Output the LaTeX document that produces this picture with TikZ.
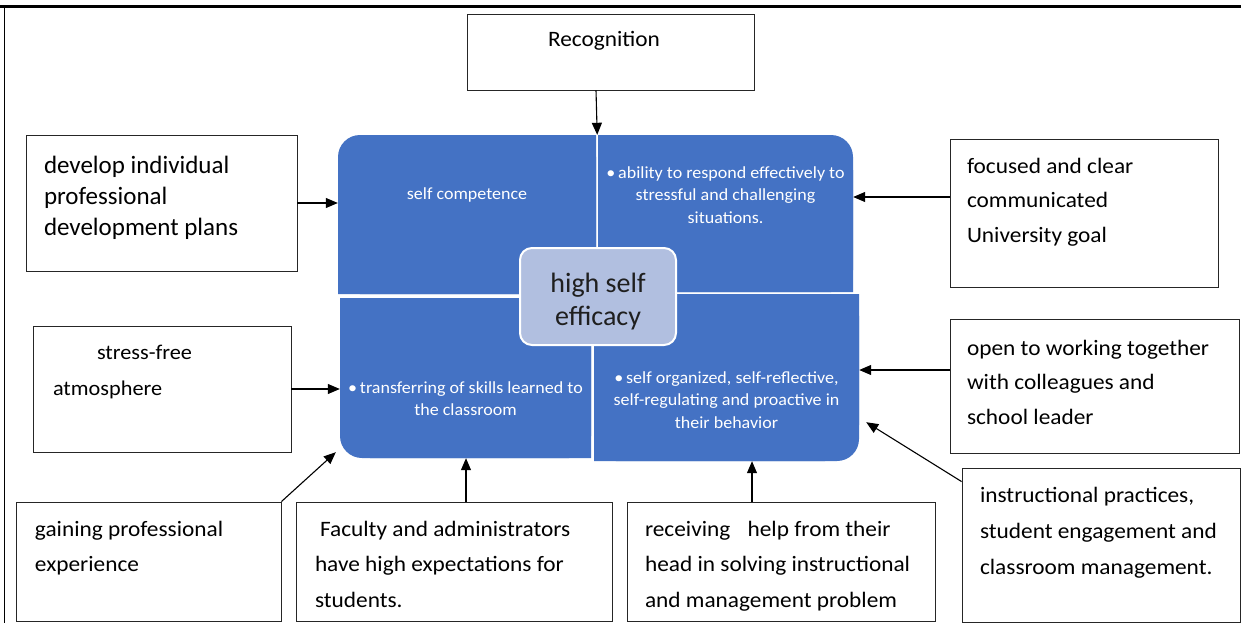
\documentclass[tikz,border=0pt]{standalone}
\usepackage{fontspec}
\setmainfont{Carlito}
\newfontfamily\wf{Carlito}[FakeStretch=1.06]
\usetikzlibrary{arrows.meta}
\definecolor{qblue}{HTML}{4472C4}
\definecolor{cblue}{HTML}{B1BFE0}
\newcommand{\tb}[7]{\parbox[c][#2pt][t]{#1pt}{#6\fontsize{#4pt}{#5pt}\selectfont\vspace*{#3pt}\rule{0pt}{0.75em}#7}}
\begin{document}
\begin{tikzpicture}[x=1pt,y=-1pt,
  box/.style={draw=black!85,line width=0.9pt,inner sep=0pt,fill=white},
  quad/.style={inner sep=0pt,text=white},
  arr/.style={-{Triangle[length=12pt,width=10pt]},line width=1.1pt}]
\useasboundingbox (0,0) rectangle (1241,623);
\fill[white] (0,0) rectangle (1241,623);
% frame
\draw[line width=2.5pt] (0,6.5) -- (1241,6.5);
\draw[line width=1.5pt] (4.5,6) -- (4.5,623);
% quadrant fills
\fill[qblue,rounded corners=22pt] (338,135) rectangle (596,294);
\fill[qblue] (370,135) rectangle (596,294) (338,170) rectangle (596,294);
\fill[qblue,rounded corners=22pt] (598,135) rectangle (853,292);
\fill[qblue] (598,135) rectangle (820,292) (598,170) rectangle (853,292);
\fill[qblue,rounded corners=22pt] (340,298) rectangle (591,458);
\fill[qblue] (370,298) rectangle (591,458) (340,298) rectangle (591,420);
\fill[qblue,rounded corners=22pt] (594,294) rectangle (859,461);
\fill[qblue] (594,294) rectangle (825,461) (594,294) rectangle (859,425);
% quadrant texts
\node[quad] (q1) at (467,214.5) {\tb{258}{159}{51.25}{17}{22.5}{\centering\wf}{self competence}};
\node[quad] (q2) at (725.5,213.5) {\tb{255}{157}{30.25}{17}{22.5}{\centering\wf}{\textbullet\,ability to respond effectively to\\stressful and challenging\\situations.}};
\node[quad] (q3) at (465.5,378) {\tb{251}{160}{82.25}{17}{22}{\centering\wf}{\textbullet\,transferring of skills learned to\\the classroom}};
\node[quad] (q4) at (726.5,377.5) {\tb{265}{167}{76.25}{17}{22.5}{\centering\wf}{\textbullet\,self organized, self-reflective,\\self-regulating and proactive in\\their behavior}};
% centre
\node[draw=white,line width=2pt,fill=cblue,rounded corners=12pt,inner sep=0pt,text=black!88] (c) at (598,296.5) {\tb{156}{97}{23}{28}{33}{\centering}{high self\\efficacy}};
% outer boxes
\node[box] (rec) at (610.5,52) {\tb{287}{76}{16.5}{22}{26}{\centering\wf}{\hspace*{-13pt}Recognition}};
\node[box] (dev) at (161.5,203) {\tb{271}{136}{19.25}{25}{31}{\raggedright\leftskip=18pt\relax}{develop individual\\professional\\development plans}};
\node[box] (stress) at (162,389) {\tb{258}{126}{17.25}{21}{36}{\raggedright\wf}{\hspace*{64pt}stress-free\\\hspace*{20pt}atmosphere}};
\node[box] (foc) at (1084,213) {\tb{268}{148}{17.5}{22}{34.5}{\raggedright\leftskip=17pt\relax\wf}{focused and clear\\communicated\\University goal}};
\node[box] (open) at (1094.5,386) {\tb{289}{134}{19.5}{22}{34.5}{\raggedright\leftskip=17pt\relax\wf}{open to working together\\with colleagues and\\school leader}};
\node[box] (instr) at (1101,545) {\tb{278}{154}{17.5}{22}{36}{\raggedright\leftskip=18pt\relax\wf}{instructional practices,\\student engagement and\\classroom management.}};
\node[box] (gain) at (148.5,561.5) {\tb{265}{119}{17.5}{22}{35}{\raggedright\leftskip=19pt\relax\wf}{gaining professional\\experience}};
\node[box] (fac) at (454,561.5) {\tb{316}{119}{17.5}{22}{35.5}{\raggedright\leftskip=19pt\relax\wf}{\hspace*{5pt}Faculty and administrators\\have high expectations for\\students.}};
\node[box] (rcv) at (781,561.5) {\tb{308}{119}{17.5}{22}{35.5}{\raggedright\leftskip=18pt\relax\wf}{receiving\hspace{12pt} help from their\\head in solving instructional\\and management problem}};
% arrows
\draw[arr] ([xshift=-14.5pt]rec.south) -- ([xshift=1pt]q1.north east);
\draw[arr] (dev.east) -- (dev.east -| q1.west);
\draw[arr] (stress.east) -- (stress.east -| q3.west);
\draw[arr] (gain.north east) -- ([shift={(-4,-6)}]q3.south west);
\draw[arr] ([xshift=12pt]fac.north) -- ([xshift=12pt]fac.north |- q3.south);
\draw[arr] ([xshift=-29pt]rcv.north) -- ([xshift=-29pt]rcv.north |- q4.south);
\draw[arr] ([yshift=-14pt]instr.north west) -- ([shift={(7,-39)}]q4.south east);
\draw[arr] ([yshift=16pt]foc.west) -- ([yshift=16pt]foc.west -| q2.east);
\draw[arr] ([yshift=16pt]open.west) -- ([yshift=16pt]open.west -| q4.east);
\end{tikzpicture}
\end{document}
